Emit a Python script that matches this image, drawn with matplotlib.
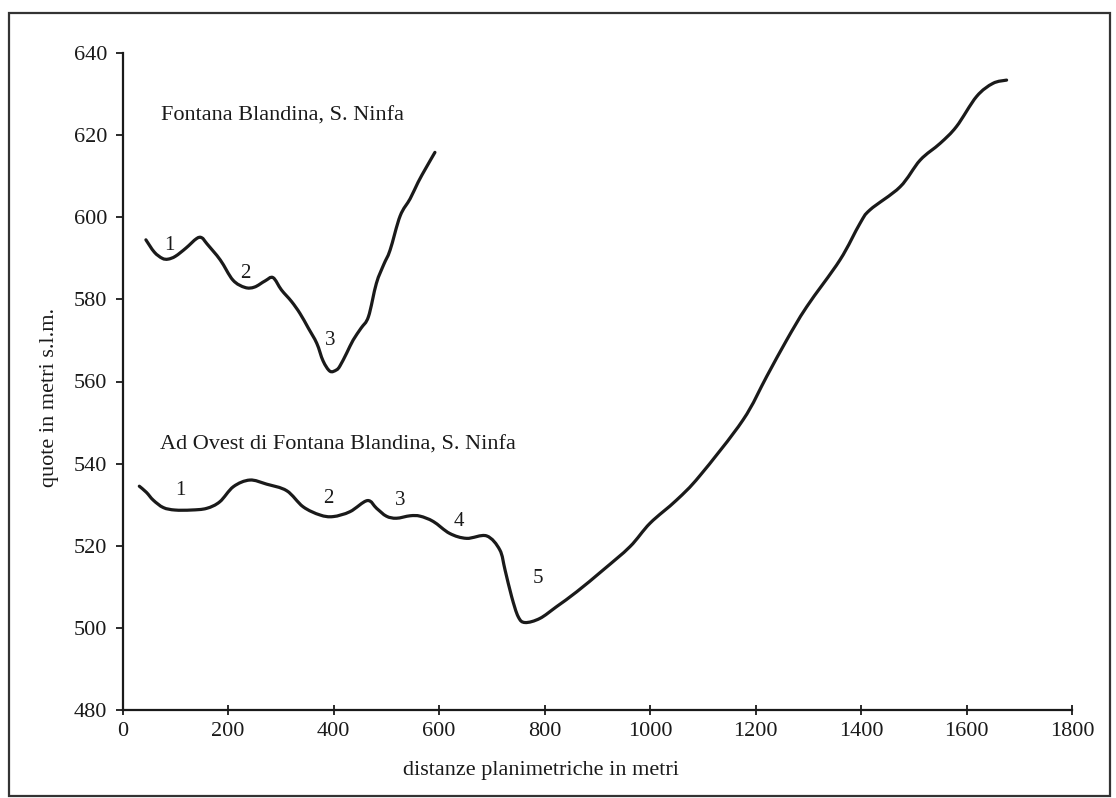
import matplotlib
matplotlib.use("Agg")
import matplotlib.pyplot as plt
from matplotlib.patches import Rectangle, PathPatch
from matplotlib.path import Path
import numpy as np

plt.rcParams['font.family'] = ['Liberation Serif', 'DejaVu Serif']

# Profile 1: Fontana Blandina, S. Ninfa
x_fb = [44, 60, 75, 86, 100, 120, 140, 150, 160, 185, 209, 232, 250, 270, 285,
        301, 320, 336, 352, 368, 380, 393, 405, 412, 425, 437, 452, 466, 481,
        495, 507, 526, 545, 560, 575, 592]
y_fb = [594.5, 591.5, 590.0, 589.8, 590.5, 592.5, 594.8, 595.0, 593.5, 589.6,
        584.7, 582.9, 583.0, 584.5, 585.3, 582.3, 579.5, 576.6, 573.0, 569.3,
        565.0, 562.5, 562.8, 563.8, 567.0, 570.1, 573.0, 575.8, 583.9, 588.5,
        592.0, 600.3, 604.5, 608.5, 612.0, 615.8]

# Profile 2: Ad Ovest di Fontana Blandina, S. Ninfa
x_ao = [31.5, 45, 58, 77, 99, 130, 159, 184, 210, 241, 273, 311, 342, 374, 399,
        431, 464, 481.5, 500, 519, 545, 564, 589, 620, 652, 690, 715, 725, 737.5,
        750, 763, 791, 823, 861, 911, 962, 1000, 1050, 1094, 1176, 1221, 1259,
        1297, 1360, 1398, 1417, 1474, 1512, 1550, 1581, 1619, 1650, 1676]
y_ao = [534.5, 533.0, 531.1, 529.3, 528.7, 528.7, 529.1, 530.7, 534.4, 536.0,
        535.0, 533.4, 529.5, 527.5, 527.1, 528.3, 531.0, 529.1, 527.2, 526.7,
        527.3, 527.2, 525.9, 523.0, 521.8, 522.4, 519.0, 514.1, 507.6, 502.7,
        501.3, 502.3, 505.2, 508.8, 514.1, 519.8, 525.5, 531.1, 537.0, 550.6,
        561.2, 570.1, 578.2, 589.6, 598.5, 601.8, 607.4, 613.9, 618.0, 622.1,
        629.4, 632.6, 633.4]

# Point labels
lab_fb = ['1', '2', '3']
lab_fb_x = [88, 233, 393]
lab_fb_y = [593.2, 586.2, 570.1]
lab_ao = ['1', '2', '3', '4', '5']
lab_ao_x = [109, 390, 526, 638, 788]
lab_ao_y = [533.5, 531.6, 531.1, 525.9, 512.0]

titles = ['Fontana Blandina, S. Ninfa', 'Ad Ovest di Fontana Blandina, S. Ninfa']
title_x = [72.6, 71]
title_y = [624.7, 544.5]

xticks = [0, 200, 400, 600, 800, 1000, 1200, 1400, 1600, 1800]
yticks = [480, 500, 520, 540, 560, 580, 600, 620, 640]

W, H = 1116, 798
fig = plt.figure(figsize=(W / 100, H / 100), dpi=100)
ax = fig.add_axes([122.7 / W, 1 - 710 / H, (1072 - 122.7) / W, (710 - 53) / H])
ax.set_xlim(0, 1800)
ax.set_ylim(480, 640)

ink = '#1a1a1a'


def smooth_path(xs, ys):
    """Catmull-Rom curve through the data points, rendered as cubic Beziers."""
    p = np.column_stack([xs, ys]).astype(float)
    n = len(p)
    verts = [p[0]]
    codes = [Path.MOVETO]
    for i in range(n - 1):
        p0 = p[i - 1] if i > 0 else p[i]
        p1 = p[i]
        p2 = p[i + 1]
        p3 = p[i + 2] if i + 2 < n else p[i + 1]
        c1 = p1 + (p2 - p0) / 6.0
        c2 = p2 - (p3 - p1) / 6.0
        verts += [c1, c2, p2]
        codes += [Path.CURVE4] * 3
    return Path(verts, codes)


for xs, ys in [(x_fb, y_fb), (x_ao, y_ao)]:
    ax.add_patch(PathPatch(smooth_path(xs, ys), fill=False, edgecolor=ink,
                           lw=2.3, capstyle='round', joinstyle='round'))

fs = 16
for t, x, y in zip(lab_fb, lab_fb_x, lab_fb_y):
    ax.text(x, y, t, fontsize=fs - 1, ha='center', va='center', color=ink)
for t, x, y in zip(lab_ao, lab_ao_x, lab_ao_y):
    ax.text(x, y, t, fontsize=fs - 1, ha='center', va='center', color=ink)
for t, x, y in zip(titles, title_x, title_y):
    ax.text(x, y, t, fontsize=fs, ha='left', va='center', color=ink)

ax.set_xticks(xticks)
ax.set_yticks(yticks)
for s in ['top', 'right']:
    ax.spines[s].set_visible(False)
for s in ['left', 'bottom']:
    ax.spines[s].set_linewidth(1.6)
    ax.spines[s].set_color(ink)
ax.tick_params(axis='y', direction='out', length=5, width=1.3, pad=6,
               labelsize=fs, colors=ink)
ax.tick_params(axis='x', direction='inout', length=7, width=1.3, pad=5,
               labelsize=fs, colors=ink)

fig.text(50 / W, 1 - 397 / H, 'quote in metri s.l.m.', rotation=90,
         ha='center', va='center', fontsize=fs, color=ink)
fig.text(541 / W, 1 - 771 / H, 'distanze planimetriche in metri',
         ha='center', va='center', fontsize=fs, color=ink)

fig.patches.append(Rectangle((9 / W, 1 - 796 / H), (1110 - 9) / W, (796 - 13) / H,
                             transform=fig.transFigure, fill=False,
                             edgecolor='#333333', lw=1.6))

fig.savefig('out.png', dpi=100, facecolor='white')
